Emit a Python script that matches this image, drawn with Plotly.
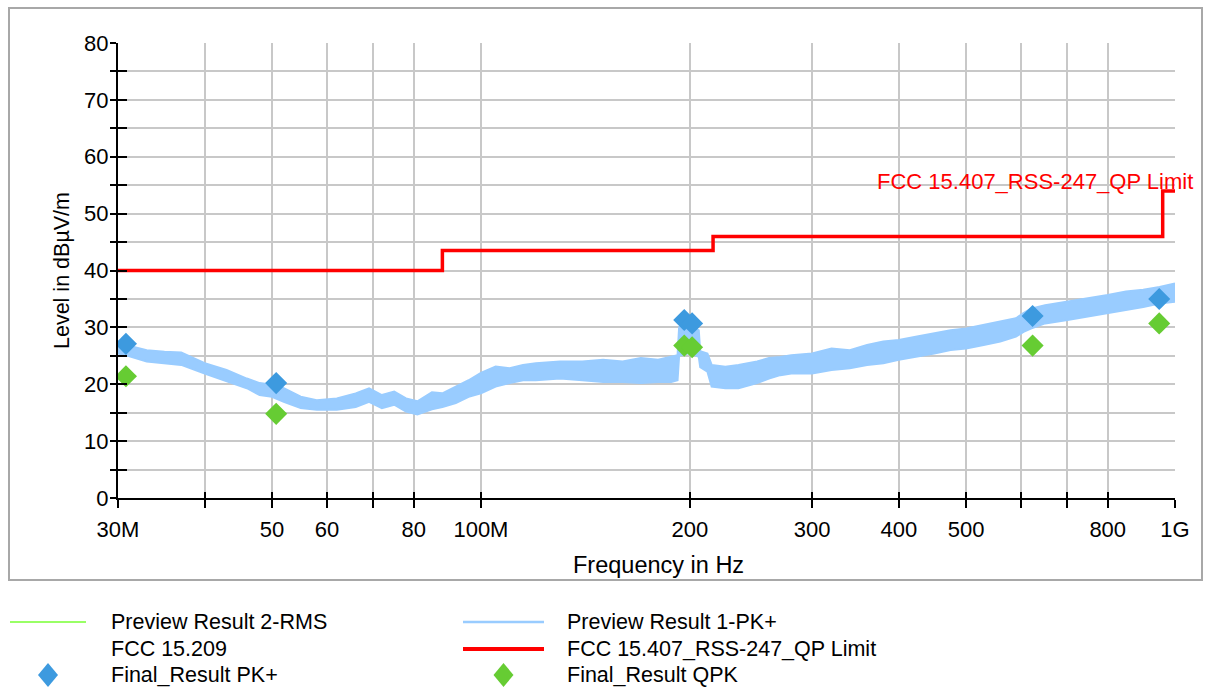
import math
import plotly.graph_objects as go

# ---------------- data ----------------
# Preview Result 1-PK+ (band envelope), MHz / dBuV/m
pk_freq_mhz = [30, 31, 33, 35, 37, 40, 43, 46, 48, 50, 52, 55, 58, 62, 66, 69, 72, 75, 78, 81,
               85, 88, 92, 96, 100, 105, 110, 115, 120, 130, 140, 150, 160, 170, 180, 188, 192,
               193, 200, 206, 207, 212, 215, 225, 235, 250, 260, 270, 280, 300, 320, 340, 360,
               380, 400, 425, 450, 475, 500, 530, 560, 590, 605, 620, 650, 700, 750, 800, 850,
               900, 950, 1000]
pk_upper = [27.6, 26.8, 26.0, 25.7, 25.6, 23.7, 22.5, 21.0, 20.2, 19.9, 19.3, 17.8, 17.2, 17.5,
            18.4, 19.3, 18.1, 18.7, 17.5, 17.0, 18.6, 18.4, 19.6, 20.7, 22.0, 23.1, 22.8, 23.4,
            23.7, 24.0, 24.0, 24.3, 24.0, 24.6, 24.3, 24.8, 25.1, 30.0, 30.5, 29.5, 25.8, 25.4,
            23.4, 23.1, 23.4, 24.0, 24.6, 24.8, 25.1, 25.4, 26.3, 26.0, 26.9, 27.5, 27.8, 28.4,
            29.0, 29.5, 29.8, 30.4, 31.0, 31.6, 32.5, 33.3, 33.9, 34.5, 35.1, 35.7, 36.3, 36.6,
            37.1, 37.7]
pk_lower = [25.4, 25.0, 24.0, 23.7, 23.4, 21.9, 20.5, 19.3, 18.1, 17.8, 16.9, 15.8, 15.5, 15.5,
            16.0, 16.9, 15.8, 16.4, 15.2, 14.7, 15.6, 16.0, 16.7, 17.8, 18.4, 19.6, 20.2, 20.7,
            20.7, 21.0, 20.7, 20.4, 20.4, 20.2, 20.4, 20.4, 20.7, 25.0, 25.5, 24.8, 23.0, 22.2,
            19.6, 19.3, 19.3, 20.2, 21.0, 21.6, 21.9, 21.9, 22.5, 22.8, 23.4, 23.7, 24.3, 24.8,
            25.4, 26.0, 26.3, 26.9, 27.5, 28.4, 29.2, 29.8, 30.7, 31.3, 31.9, 32.5, 33.1, 33.6,
            34.2, 34.5]

# FCC 15.407_RSS-247_QP Limit (step)
limit_freq_mhz = [30, 88, 216, 960, 1000]
limit_level = [40, 43.5, 46, 54, 54]

# Final results
final_freq_mhz = [30.8, 50.7, 196.3, 201.5, 623.5, 949.0]
final_pk = [27.1, 20.2, 31.3, 30.7, 32.0, 35.0]
final_qpk = [21.4, 14.8, 26.8, 26.5, 26.8, 30.7]

# Axis ticks
x_tick_mhz = [30, 40, 50, 60, 70, 80, 100, 200, 300, 400, 500, 600, 700, 800, 1000]
x_tick_text = ["30M", "", "50", "60", "", "80", "100M", "200", "300", "400", "500", "", "", "800", "1G"]
y_tick_vals = list(range(0, 85, 5))
y_tick_text = [str(v) if v % 10 == 0 else "" for v in y_tick_vals]

# ---------------- styling ----------------
FONT = "Arial, Liberation Sans, sans-serif"
PK_BAND = "#99CCFF"
BLUE = "#3D9ADF"
GREEN = "#66CC33"
RED = "#FF0000"
GRID = "#C8C8C8"

W, H = 1211, 689
PL, PR, PT, PB = 118, 1175, 43, 498  # plot area in px


def px(x):
    return (x - PL) / (PR - PL)


def py(y):
    return (PB - y) / (PB - PT)


def hz(arr):
    return [v * 1e6 for v in arr]


fig = go.Figure()

# band: lower edge then upper edge filled
fig.add_trace(go.Scatter(x=hz(pk_freq_mhz), y=pk_lower, mode="lines",
                         line=dict(color=PK_BAND, width=2), showlegend=False, hoverinfo="skip"))
fig.add_trace(go.Scatter(x=hz(pk_freq_mhz), y=pk_upper, mode="lines", fill="tonexty",
                         fillcolor=PK_BAND, line=dict(color=PK_BAND, width=2),
                         showlegend=False, name="Preview Result 1-PK+"))

fig.add_trace(go.Scatter(x=hz(limit_freq_mhz), y=limit_level, mode="lines", line_shape="hv",
                         line=dict(color=RED, width=3.5), showlegend=False,
                         name="FCC 15.407_RSS-247_QP Limit"))

fig.add_trace(go.Scatter(x=hz(final_freq_mhz), y=final_qpk, mode="markers",
                         marker=dict(symbol="diamond", size=17, color=GREEN, line=dict(width=0)),
                         showlegend=False, name="Final_Result QPK"))
fig.add_trace(go.Scatter(x=hz(final_freq_mhz), y=final_pk, mode="markers",
                         marker=dict(symbol="diamond", size=17, color=BLUE, line=dict(width=0)),
                         showlegend=False, name="Final_Result PK+"))

# dummy trace for overlay axes (inner tick halves)
fig.add_trace(go.Scatter(x=[3e7], y=[0], xaxis="x2", yaxis="y2", mode="markers",
                         marker=dict(opacity=0), showlegend=False, hoverinfo="skip"))

xr = [math.log10(30e6), math.log10(1e9)]

fig.update_layout(
    width=W, height=H,
    margin=dict(l=PL, r=W - PR, t=PT, b=H - PB),
    paper_bgcolor="white", plot_bgcolor="white",
    font=dict(family=FONT, size=22, color="black"),
    xaxis=dict(type="log", range=xr, tickvals=hz(x_tick_mhz), ticktext=x_tick_text,
               showgrid=True, gridcolor=GRID, gridwidth=2,
               showline=True, linecolor="black", linewidth=2,
               ticks="outside", ticklen=8, tickwidth=2, tickcolor="black",
               ticklabelstandoff=3, zeroline=False,
               tickfont=dict(size=22, family=FONT)),
    yaxis=dict(range=[0, 80], tickvals=y_tick_vals, ticktext=y_tick_text,
               showgrid=True, gridcolor=GRID, gridwidth=2,
               showline=True, linecolor="black", linewidth=2,
               ticks="outside", ticklen=6, tickwidth=2, tickcolor="black",
               ticklabelstandoff=-3, zeroline=False,
               tickfont=dict(size=22, family=FONT)),
    xaxis2=dict(type="log", range=xr, overlaying="x", anchor="y", side="bottom",
                tickvals=hz(x_tick_mhz), showticklabels=False, showgrid=False,
                showline=False, zeroline=False,
                ticks="inside", ticklen=6, tickwidth=2, tickcolor="black"),
    yaxis2=dict(range=[0, 80], overlaying="y", anchor="x", side="left",
                tickvals=y_tick_vals, showticklabels=False, showgrid=False,
                showline=False, zeroline=False,
                ticks="inside", ticklen=9, tickwidth=2, tickcolor="black"),
    showlegend=False,
)

shapes = []
# outer frame
shapes.append(dict(type="rect", xref="paper", yref="paper",
                   x0=px(9), x1=px(1202), y0=py(580), y1=py(8),
                   line=dict(color="#A8A8A8", width=2), fillcolor="rgba(0,0,0,0)", layer="below"))

annotations = []
# axis titles
annotations.append(dict(xref="paper", yref="paper", x=px(62), y=py(271), text="Level in dBµV/m",
                        textangle=-90, showarrow=False, font=dict(size=21.5, family=FONT),
                        xanchor="center", yanchor="middle"))
annotations.append(dict(xref="paper", yref="paper", x=px(658), y=py(565), text="Frequency in Hz",
                        showarrow=False, font=dict(size=23.5, family=FONT),
                        xanchor="center", yanchor="middle"))
# limit label
annotations.append(dict(xref="paper", yref="paper", x=px(1195), y=py(181),
                        text="FCC 15.407_RSS-247_QP Limit", showarrow=False,
                        font=dict(size=22, family=FONT, color=RED),
                        xanchor="right", yanchor="middle"))

# custom legend
legend_rows = [622, 649, 675]
col_line = [(10, 86), (463, 544)]
col_text = [109, 565]
legend_items = [
    (0, 0, "line", "#99FF66", 2, "Preview Result 2-RMS"),
    (1, 0, "line", PK_BAND, 2.5, "Preview Result 1-PK+"),
    (0, 1, None, None, 0, "FCC 15.209"),
    (1, 1, "line", RED, 4, "FCC 15.407_RSS-247_QP Limit"),
    (0, 2, "diamond", BLUE, 0, "Final_Result PK+"),
    (1, 2, "diamond", GREEN, 0, "Final_Result QPK"),
]
for col, row, kind, color, lw, label in legend_items:
    yc = legend_rows[row]
    if kind == "line":
        shapes.append(dict(type="line", xref="paper", yref="paper",
                           x0=px(col_line[col][0]), x1=px(col_line[col][1]), y0=py(yc), y1=py(yc),
                           line=dict(color=color, width=lw)))
    elif kind == "diamond":
        cx = (col_line[col][0] + col_line[col][1]) / 2
        hw, hh = 10, 12
        path = (f"M {px(cx)} {py(yc - hh)} L {px(cx + hw)} {py(yc)} "
                f"L {px(cx)} {py(yc + hh)} L {px(cx - hw)} {py(yc)} Z")
        shapes.append(dict(type="path", xref="paper", yref="paper", path=path,
                           fillcolor=color, line=dict(width=0)))
    annotations.append(dict(xref="paper", yref="paper", x=px(col_text[col]), y=py(yc), text=label,
                            showarrow=False, font=dict(size=21.5, family=FONT),
                            xanchor="left", yanchor="middle"))

fig.update_layout(shapes=shapes, annotations=annotations)
fig.write_html("out.html", config={"displayModeBar": False},
               post_script="document.body.style.margin='0';document.body.style.overflow='hidden';")
